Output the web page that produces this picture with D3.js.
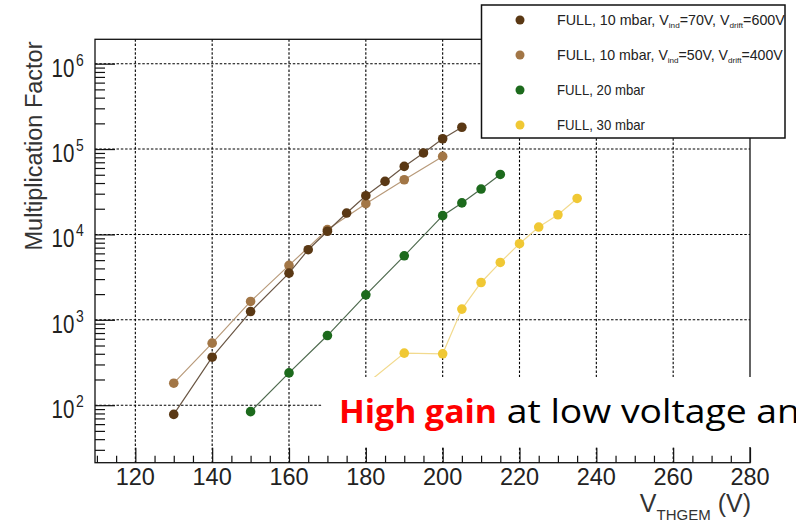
<!DOCTYPE html>
<html>
<head>
<meta charset="utf-8">
<script src="https://cdn.jsdelivr.net/npm/d3@7"></script>
<style>
  html, body { margin: 0; padding: 0; background: #fff; }
  svg { display: block; font-family: "Liberation Sans", Arial, sans-serif; }
</style>
</head>
<body>
<div id="chart"></div>
<script>
// FULL, 10 mbar, Vind=70V, Vdrift=600V
const voltsA = [130, 140, 150, 160, 165, 170, 175, 180, 185, 190, 195, 200, 205]
const gainA = [78, 365, 1250, 3520, 6620, 10900, 17800, 28400, 41800, 62600, 90000, 132000, 180000]
// FULL, 10 mbar, Vind=50V, Vdrift=400V
const voltsB = [130, 140, 150, 160, 170, 180, 190, 200]
const gainB = [181, 533, 1640, 4340, 11400, 22900, 43700, 82000]
// FULL, 20 mbar
const voltsC = [150, 160, 170, 180, 190, 200, 205, 210, 215]
const gainC = [84, 239, 654, 1960, 5620, 16600, 23400, 34000, 50400]
// FULL, 30 mbar
const voltsD = [180, 190, 200, 205, 210, 215, 220, 225, 230, 235]
const gainD = [176, 407, 400, 1335, 2735, 4700, 7790, 12200, 17000, 26400]

const xTicks = [120, 140, 160, 180, 200, 220, 240, 260, 280]
const yTicks = [1e2, 1e3, 1e4, 1e5, 1e6]
const yExponents = ["2", "3", "4", "5", "6"]

const legendLabels = [
  ["FULL, 10 mbar, V", "ind", "=70V, V", "drift", "=600V"],
  ["FULL, 10 mbar, V", "ind", "=50V, V", "drift", "=400V"],
  ["FULL, 20 mbar"],
  ["FULL, 30 mbar"]
]

const dotColors = ["#5a3814", "#a27646", "#1c6a1c", "#f0c834"]
const lineColors = ["#6a5644", "#b89a7a", "#4e6a4e", "#f2da8e"]

const width = 796
const height = 524

const svg = d3.select("#chart")
  .append("svg")
  .attr("width", width)
  .attr("height", height)
  .style("background", "#fff")

const x = d3.scaleLinear().domain([109.5, 280]).range([95, 750])
const y = d3.scaleLog().domain([21.2, 1.93e6]).range([462.7, 39.3])

// grid
svg.append("g")
  .selectAll("line")
  .data(yTicks)
  .enter()
  .append("line")
  .attr("x1", x.range()[0])
  .attr("x2", x.range()[1])
  .attr("y1", (d) => y(d))
  .attr("y2", (d) => y(d))
  .attr("stroke", "#000")
  .attr("stroke-width", 1.1)
  .attr("stroke-dasharray", "2.5,1.8")

svg.append("g")
  .selectAll("line")
  .data(xTicks.slice(0, -1))
  .enter()
  .append("line")
  .attr("x1", (d) => x(d))
  .attr("x2", (d) => x(d))
  .attr("y1", y.range()[1])
  .attr("y2", y.range()[0])
  .attr("stroke", "#000")
  .attr("stroke-width", 1.1)
  .attr("stroke-dasharray", "2.5,1.8")

// frame
svg.append("rect")
  .attr("x", x.range()[0])
  .attr("y", y.range()[1])
  .attr("width", x.range()[1] - x.range()[0])
  .attr("height", y.range()[0] - y.range()[1])
  .attr("fill", "none")
  .attr("stroke", "#111")
  .attr("stroke-width", 1.3)

// axes ticks (inward)
const xMinor = d3.range(110, 281, 5).filter((v) => v % 20 !== 0)
svg.append("g")
  .attr("transform", `translate(0,${y.range()[0]})`)
  .call(d3.axisBottom(x).tickValues(xTicks).tickSizeInner(-15).tickSizeOuter(0).tickFormat(""))
  .call((g) => g.select(".domain").remove())
svg.append("g")
  .attr("transform", `translate(0,${y.range()[0]})`)
  .call(d3.axisBottom(x).tickValues(xMinor).tickSizeInner(-7).tickSizeOuter(0).tickFormat(""))
  .call((g) => g.select(".domain").remove())

const yMinor = []
;[10, 100, 1000, 10000, 100000].forEach((dec) => {
  for (let k = 2; k <= 9; k++) {
    const v = dec * k
    if (v > y.domain()[0] && v < y.domain()[1]) yMinor.push(v)
  }
})
svg.append("g")
  .attr("transform", `translate(${x.range()[0]},0)`)
  .call(d3.axisLeft(y).tickValues(yTicks).tickSizeInner(-20).tickSizeOuter(0).tickFormat(""))
  .call((g) => g.select(".domain").remove())
svg.append("g")
  .attr("transform", `translate(${x.range()[0]},0)`)
  .call(d3.axisLeft(y).tickValues(yMinor).tickSizeInner(-10).tickSizeOuter(0).tickFormat(""))
  .call((g) => g.select(".domain").remove())
svg.selectAll(".tick line").attr("stroke", "#111").attr("stroke-width", 1.2)

// series
const seriesList = [
  { volts: voltsB, gain: gainB, idx: 1 },
  { volts: voltsA, gain: gainA, idx: 0 },
  { volts: voltsC, gain: gainC, idx: 2 },
  { volts: voltsD, gain: gainD, idx: 3 }
]
const line = d3.line().x((d) => x(d[0])).y((d) => y(d[1]))

seriesList.forEach((s) => {
  const pts = s.volts.map((v, i) => [v, s.gain[i]])
  svg.append("path")
    .datum(pts)
    .attr("d", line)
    .attr("fill", "none")
    .attr("stroke", lineColors[s.idx])
    .attr("stroke-width", 1.2)
  svg.append("g")
    .selectAll("circle")
    .data(pts)
    .enter()
    .append("circle")
    .attr("cx", (d) => x(d[0]))
    .attr("cy", (d) => y(d[1]))
    .attr("r", 4.8)
    .attr("fill", dotColors[s.idx])
})

// tick labels
svg.append("g")
  .selectAll("text")
  .data(xTicks)
  .enter()
  .append("text")
  .attr("x", (d) => x(d))
  .attr("y", 485)
  .attr("text-anchor", "middle")
  .attr("font-size", "23.5px")
  .attr("fill", "#222")
  .text((d) => d)

// 10^n labels, slightly condensed like the reference
const yLab = svg.append("g")
  .selectAll("text")
  .data(yTicks)
  .enter()
  .append("text")
  .attr("transform", (d) => `translate(51.5,${y(d) + 13}) scale(0.82,1)`)
  .attr("font-size", "25px")
  .attr("fill", "#222")
yLab.append("tspan").text("10")
yLab.append("tspan")
  .attr("font-size", "17px")
  .attr("dx", 2)
  .attr("dy", -11)
  .text((d, i) => yExponents[i])

// axis titles
svg.append("text")
  .attr("transform", "translate(42,146) rotate(-90)")
  .attr("text-anchor", "middle")
  .attr("font-size", "23.5px")
  .attr("fill", "#333")
  .text("Multiplication Factor")

const xTitle = svg.append("text")
  .attr("x", 751)
  .attr("y", 511.5)
  .attr("text-anchor", "end")
  .attr("fill", "#333")
  .attr("font-size", "25px")
xTitle.append("tspan").text("V")
xTitle.append("tspan").attr("font-size", "15px").attr("dy", 8).text("THGEM")
xTitle.append("tspan").attr("dy", -8).text(" (V)")

// legend
svg.append("rect")
  .attr("x", 481.5)
  .attr("y", 5)
  .attr("width", 303.5)
  .attr("height", 133)
  .attr("fill", "#fff")
  .attr("stroke", "#111")
  .attr("stroke-width", 1.5)

const legendWidths = [228, 226, 88, 88]
legendLabels.forEach((parts, i) => {
  const cy = 20 + i * 35
  svg.append("circle")
    .attr("cx", 520)
    .attr("cy", cy)
    .attr("r", 4.5)
    .attr("fill", dotColors[i])
  const t = svg.append("text")
    .attr("font-size", "14px")
    .attr("fill", "#222")
  parts.forEach((p, j) => {
    if (j % 2 === 1) {
      t.append("tspan").attr("font-size", "8px").attr("dy", 3).text(p)
    } else {
      t.append("tspan").attr("dy", j === 0 ? 0 : -3).text(p)
    }
  })
  const w = t.node().getComputedTextLength()
  t.attr("transform", `translate(557,${cy + 5}) scale(${legendWidths[i] / w},1)`)
})

// slide text box overlay
svg.append("rect")
  .attr("x", 322)
  .attr("y", 377)
  .attr("width", 474)
  .attr("height", 70)
  .attr("fill", "#fff")

svg.append("text")
  .attr("x", 339)
  .attr("y", 423)
  .attr("font-family", "'Open Sans', sans-serif")
  .attr("font-weight", "bold")
  .attr("font-size", "33px")
  .attr("fill", "#ff0000")
  .attr("textLength", 158)
  .attr("lengthAdjust", "spacingAndGlyphs")
  .text("High gain")

svg.append("text")
  .attr("x", 497)
  .attr("y", 423)
  .attr("font-family", "'Open Sans', sans-serif")
  .attr("font-size", "33px")
  .attr("fill", "#000")
  .attr("textLength", 303)
  .attr("lengthAdjust", "spacingAndGlyphs")
  .style("white-space", "pre")
  .text(" at low voltage an")
</script>
</body>
</html>
